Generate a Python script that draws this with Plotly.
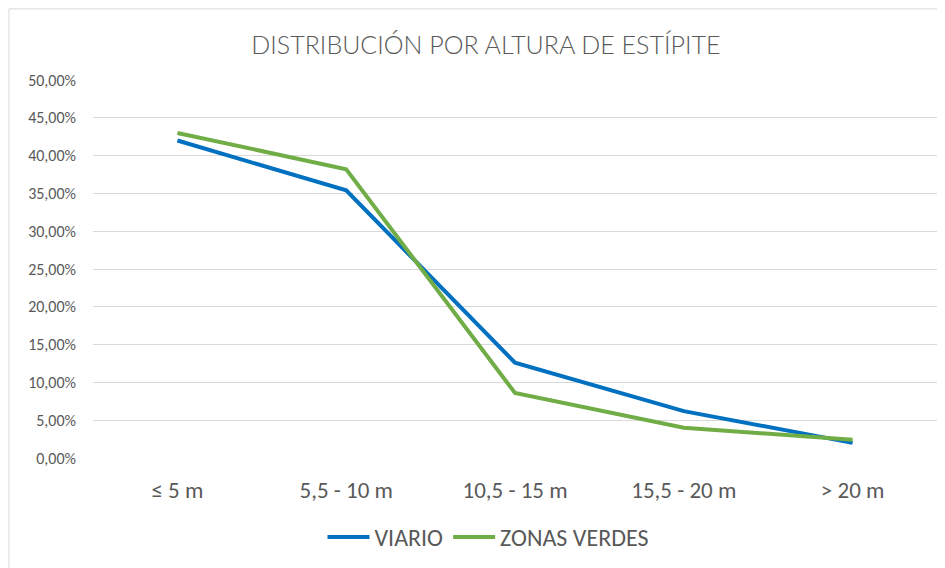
import plotly.graph_objects as go

categorias = ["≤ 5 m", "5,5 - 10 m", "10,5 - 15 m", "15,5 - 20 m", "> 20 m"]
viario = [0.420, 0.354, 0.126, 0.062, 0.020]
zonas_verdes = [0.430, 0.382, 0.086, 0.040, 0.024]

fuente = "Carlito, Calibri, Lato, sans-serif"
gris = "#595959"

fig = go.Figure()
fig.add_trace(go.Scatter(x=categorias, y=viario, name="VIARIO", mode="lines",
                         line=dict(color="#0070C0", width=4)))
fig.add_trace(go.Scatter(x=categorias, y=zonas_verdes, name="ZONAS VERDES", mode="lines",
                         line=dict(color="#70AD47", width=4)))

# la página añade 8px de margen, por eso la figura es algo menor que la ventana
fig.update_layout(
    width=937, height=560,
    margin=dict(l=85, r=8, t=72, b=108),
    plot_bgcolor="white", paper_bgcolor="white",
    separators=",.",
    font=dict(family=fuente, color=gris),
    title=dict(text="DISTRIBUCIÓN POR ALTURA DE ESTÍPITE", x=0.51, xanchor="center",
               y=1 - 37 / 560, yanchor="middle",
               font=dict(family="Lato, Carlito, sans-serif", weight=300, size=25, color=gris)),
    xaxis=dict(type="category", range=[-0.5, 4.5], showgrid=False, ticks="",
               showline=False, tickfont=dict(size=23, color=gris), ticklabelstandoff=16),
    yaxis=dict(range=[0, 0.5], dtick=0.05, tickformat=".2%", gridcolor="#D9D9D9",
               gridwidth=1, zeroline=False, showline=False, ticks="",
               tickfont=dict(size=16, color=gris), ticklabelstandoff=16),
    legend=dict(orientation="h", x=0.468, xanchor="center", y=-0.21, yanchor="middle",
                font=dict(size=24, color=gris), itemwidth=42),
    shapes=[dict(type="rect", xref="paper", yref="paper",
                 x0=(1 - 85) / 844, x1=1.1,
                 y0=-0.4, y1=(452 - 0.5) / 380,
                 line=dict(color="#D9D9D9", width=1), layer="below")],
)

fig.write_html("out.html")
